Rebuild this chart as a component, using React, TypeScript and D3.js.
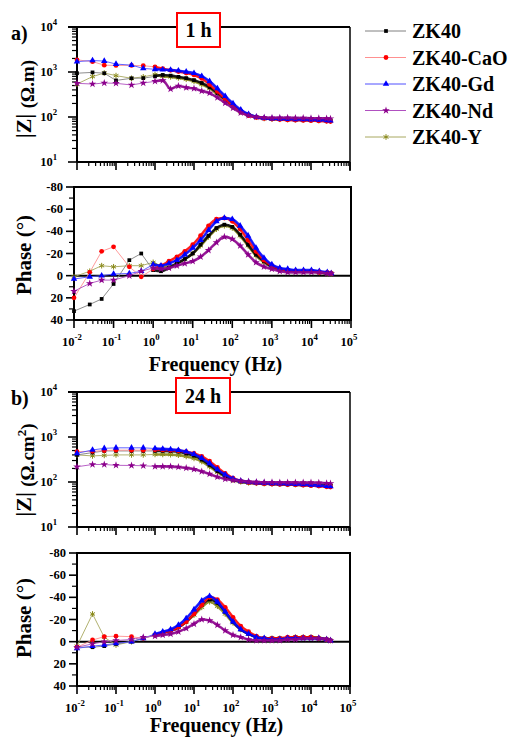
import React, { useEffect, useRef } from "react";
import * as d3 from "d3";

const FONT = "'Liberation Serif', 'Times New Roman', serif";

// frequencies (Hz): sparse low-frequency points, then the dense sweep
const freqs = [0.01, 0.025, 0.05, 0.1, 0.25, 0.5, 1, 1.58, 2.51, 3.98, 6.31, 10, 15.8, 25.1, 39.8, 63.1, 100, 158, 251, 398, 631, 1000, 1585, 2512, 3981, 6310, 10000, 15849, 25119, 31623];

const seriesNames = ["ZK40", "ZK40-CaO", "ZK40-Gd", "ZK40-Nd", "ZK40-Y"];
const markerColors = ["#000000", "#ff0000", "#0000ff", "#8b008b", "#8a8a1a"];
const lineColors = ["#808080", "#ff9090", "#5050ff", "#b050c0", "#a8a860"];
const markerShapes = [d3.symbolSquare, d3.symbolCircle, d3.symbolTriangle, d3.symbolStar, d3.symbolAsterisk];
const drawOrder = [4, 0, 1, 2, 3];

// |Z| after 1 h
const imp1h_ZK40 = [940, 980, 940, 650, 725, 730, 800, 860, 830, 780, 730, 660, 570, 460, 340, 245, 180, 135, 112, 100, 94, 91, 90, 89, 88, 87, 86, 85, 84, 83];
const imp1h_CaO = [1860, 1700, 1420, 1400, 1400, 1380, 1300, 1180, 1090, 1020, 950, 860, 720, 530, 370, 250, 175, 130, 108, 98, 93, 90, 88, 86, 85, 84, 83, 82, 80, 79];
const imp1h_Gd = [1700, 1800, 1750, 1500, 1420, 1200, 1150, 1130, 1110, 1070, 1010, 940, 810, 620, 430, 290, 200, 145, 115, 100, 94, 92, 91, 90, 89, 88, 87, 86, 84, 83];
const imp1h_Nd = [560, 540, 570, 560, 515, 570, 620, 650, 420, 490, 450, 430, 380, 340, 270, 205, 158, 125, 108, 100, 97, 96, 96, 96, 95, 95, 94, 94, 93, 92];
const imp1h_Y = [540, 790, 950, 830, 725, 780, 880, 800, 780, 740, 690, 620, 530, 430, 320, 235, 172, 130, 110, 99, 93, 90, 89, 88, 87, 86, 85, 84, 83, 82];

// phase after 1 h
const ph1h_ZK40 = [32, 26, 21, 7.5, -14, -20, -5, -4, -7, -11, -15, -20, -28, -36, -43, -46, -44, -37, -28, -19, -13, -8, -6, -5, -4, -4, -4, -3, -2, -2];
const ph1h_CaO = [20, -3, -22, -26, -8, 1, -6, -9, -13, -17, -22, -28, -36, -45, -51, -52, -49, -42, -32, -22, -14, -9, -6, -5, -4, -4, -4, -3, -3, -2];
const ph1h_Gd = [3, 1, 0, -1.5, -2, -4, -10, -9, -11, -14, -19, -25, -32, -41, -49, -52, -51, -45, -36, -25, -16, -10, -7, -6, -5, -5, -5, -4, -3, -2];
const ph1h_Nd = [14, 7, 4, 4, 0, -4, -7, -6, -7, -9, -11, -13, -17, -23, -30, -35, -33, -27, -19, -12, -8, -6, -4, -3, -3, -3, -3, -3, -2, -2];
const ph1h_Y = [1, -4, -9, -8, -9, -9, -12, -8, -8, -11, -15, -20, -27, -35, -42, -45, -43, -36, -27, -18, -12, -8, -6, -5, -4, -4, -4, -3, -2, -2];

// |Z| after 24 h
const imp24h_ZK40 = [400, 450, 490, 490, 490, 490, 490, 490, 485, 470, 430, 385, 315, 240, 175, 135, 112, 102, 97, 94, 92, 90, 89, 88, 87, 86, 85, 84, 83, 82];
const imp24h_CaO = [470, 480, 500, 510, 510, 510, 520, 515, 505, 495, 470, 430, 370, 290, 210, 155, 122, 105, 98, 94, 92, 90, 89, 88, 87, 85, 83, 81, 78, 77];
const imp24h_Gd = [435, 515, 560, 575, 575, 575, 555, 545, 530, 510, 470, 415, 340, 260, 190, 145, 118, 106, 100, 97, 95, 93, 92, 91, 90, 88, 86, 84, 81, 80];
const imp24h_Nd = [218, 245, 245, 235, 233, 230, 222, 222, 220, 215, 205, 192, 172, 150, 130, 117, 110, 105, 102, 100, 99, 99, 98, 98, 98, 97, 97, 96, 94, 93];
const imp24h_Y = [400, 380, 390, 400, 400, 400, 410, 410, 405, 395, 370, 335, 285, 220, 165, 130, 110, 101, 96, 94, 92, 91, 90, 89, 88, 87, 86, 85, 84, 83];

// phase after 24 h
const ph24h_ZK40 = [5, 5, 4, 2, 0, -3, -6, -8, -10, -13, -18, -25, -33, -38, -35, -27, -18, -11, -7, -4, -3, -3, -3, -3, -4, -4, -4, -3, -2, -1];
const ph24h_CaO = [5, -1.5, -4.5, -5, -4.5, -3, -6, -8, -10, -13, -18, -25, -33, -40, -38, -31, -22, -14, -9, -5, -3, -3, -3, -4, -4, -4, -4, -3, -2, -1];
const ph24h_Gd = [6, 4, 3, 1.5, 0, -3, -7, -9, -11, -15, -21, -29, -37, -41, -36, -27, -18, -11, -7, -4, -3, -2, -2, -3, -3, -3, -3, -3, -2, -1];
const ph24h_Nd = [5, 2, 0, -1, -2, -4, -5, -6, -7, -9, -12, -16, -20, -19, -15, -10, -6, -4, -2, -1, -1, -1, -1, -2, -2, -3, -3, -3, -2, -1];
const ph24h_Y = [4, -25, -4, 3, 0, -3, -6, -8, -10, -13, -18, -24, -31, -36, -32, -25, -17, -11, -7, -4, -3, -3, -3, -3, -4, -4, -4, -3, -2, -1];

const freqTicks = [0.01, 0.1, 1, 10, 100, 1000, 10000, 100000];
const freqExps = ["-2", "-1", "0", "1", "2", "3", "4", "5"];
const impTicks = [10, 100, 1000, 10000];
const impExps = ["1", "2", "3", "4"];
const phaseTicks = [-80, -60, -40, -20, 0, 20, 40];
const phaseMinor = [-70, -50, -30, -10, 10, 30];

const panels = [
  { kind: "imp", left: 77, right: 350, top: 27, bottom: 162, freqY: 0, data: [imp1h_ZK40, imp1h_CaO, imp1h_Gd, imp1h_Nd, imp1h_Y] },
  { kind: "phase", left: 74, right: 351, top: 187, bottom: 320, freqY: 51, data: [ph1h_ZK40, ph1h_CaO, ph1h_Gd, ph1h_Nd, ph1h_Y] },
  { kind: "imp", left: 77, right: 350, top: 392, bottom: 527, freqY: 0, data: [imp24h_ZK40, imp24h_CaO, imp24h_Gd, imp24h_Nd, imp24h_Y] },
  { kind: "phase", left: 77, right: 350, top: 553, bottom: 686, freqY: 46, data: [ph24h_ZK40, ph24h_CaO, ph24h_Gd, ph24h_Nd, ph24h_Y] },
];

function supText(g: any, x: number, y: number, base: string, exp: string, anchor: string, size: number) {
  const t = g.append("text").attr("x", x).attr("y", y).attr("text-anchor", anchor)
    .attr("font-family", FONT).attr("font-weight", "bold").attr("font-size", size);
  t.append("tspan").text(base);
  t.append("tspan").attr("dy", -size * 0.45).attr("font-size", size * 0.7).text(exp);
}

function minorLog(lo: number, hi: number) {
  const out: number[] = [];
  for (let d = lo; d < hi; d *= 10) for (let m = 2; m <= 9; m++) out.push(d * m);
  return out;
}

export default function App() {
  const ref = useRef<SVGSVGElement>(null);

  useEffect(() => {
    const svg = d3.select(ref.current);
    svg.selectAll("*").remove();

    panels.forEach((p) => {
      const g = svg.append("g");
      const x = d3.scaleLog().domain([0.01, 100000]).range([p.left, p.right]);
      const y = p.kind === "imp"
        ? d3.scaleLog().domain([10, 10000]).range([p.bottom, p.top])
        : d3.scaleLinear().domain([-80, 40]).range([p.top, p.bottom]);

      // frame
      if (p.kind === "imp") {
        g.append("line").attr("x1", p.left - 9).attr("x2", p.right).attr("y1", p.top).attr("y2", p.top).attr("stroke", "#000").attr("stroke-width", 2);
        g.append("line").attr("x1", p.right).attr("x2", p.right).attr("y1", p.top).attr("y2", p.bottom + 9).attr("stroke", "#000").attr("stroke-width", 1.5);
      } else {
        g.append("rect").attr("x", p.left).attr("y", p.top).attr("width", p.right - p.left).attr("height", p.bottom - p.top)
          .attr("fill", "none").attr("stroke", "#000").attr("stroke-width", 2);
        g.append("line").attr("x1", p.left).attr("x2", p.right).attr("y1", y(0)).attr("y2", y(0)).attr("stroke", "#000").attr("stroke-width", 2);
      }
      g.append("line").attr("x1", p.left).attr("x2", p.left).attr("y1", p.top).attr("y2", p.bottom).attr("stroke", "#000").attr("stroke-width", 2);
      g.append("line").attr("x1", p.left).attr("x2", p.right).attr("y1", p.bottom).attr("y2", p.bottom).attr("stroke", "#000").attr("stroke-width", 2);

      // x ticks
      freqTicks.forEach((f) => {
        g.append("line").attr("x1", x(f)).attr("x2", x(f)).attr("y1", p.bottom).attr("y2", p.bottom + 8).attr("stroke", "#000").attr("stroke-width", 1.6);
      });
      minorLog(0.01, 100000).forEach((f) => {
        g.append("line").attr("x1", x(f)).attr("x2", x(f)).attr("y1", p.bottom).attr("y2", p.bottom + 4).attr("stroke", "#000").attr("stroke-width", 1.2);
      });
      if (p.kind === "phase") {
        freqTicks.forEach((f, i) => supText(g, x(f) - 2, p.bottom + 26, "10", freqExps[i], "middle", 12.5));
        g.append("text").attr("x", (p.left + p.right) / 2 + 3).attr("y", p.bottom + p.freqY).attr("text-anchor", "middle")
          .attr("font-family", FONT).attr("font-weight", "bold").attr("font-size", 20).text("Frequency (Hz)");
      }

      // y ticks
      if (p.kind === "imp") {
        impTicks.forEach((v, i) => {
          g.append("line").attr("x1", p.left - 9).attr("x2", p.left).attr("y1", y(v)).attr("y2", y(v)).attr("stroke", "#000").attr("stroke-width", 1.6);
          supText(g, p.left - 20, y(v) + 4, "10", impExps[i], "end", 12.5);
        });
        minorLog(10, 10000).forEach((v) => {
          g.append("line").attr("x1", p.left - 5).attr("x2", p.left).attr("y1", y(v)).attr("y2", y(v)).attr("stroke", "#000").attr("stroke-width", 1.2);
        });
      } else {
        phaseTicks.forEach((v) => {
          g.append("line").attr("x1", p.left - 8).attr("x2", p.left).attr("y1", y(v)).attr("y2", y(v)).attr("stroke", "#000").attr("stroke-width", 1.6);
          g.append("text").attr("x", p.left - 11).attr("y", y(v) + 4).attr("text-anchor", "end")
            .attr("font-family", FONT).attr("font-weight", "bold").attr("font-size", 12.5).text(String(v));
        });
        phaseMinor.forEach((v) => {
          g.append("line").attr("x1", p.left - 5).attr("x2", p.left).attr("y1", y(v)).attr("y2", y(v)).attr("stroke", "#000").attr("stroke-width", 1.2);
        });
      }

      // series
      drawOrder.forEach((si) => {
        const vals = p.data[si];
        const pts: [number, number][] = freqs.map((f, j) => [x(f), y(vals[j])]);
        g.append("path").attr("d", d3.line()(pts)).attr("fill", "none").attr("stroke", lineColors[si]).attr("stroke-width", 0.9);
        const dense = pts.filter((_, j) => freqs[j] >= 1);
        g.append("path").attr("d", d3.line().curve(d3.curveMonotoneX)(dense)).attr("fill", "none")
          .attr("stroke", markerColors[si]).attr("stroke-width", 2.6).attr("stroke-opacity", 0.85);
        const sym = d3.symbol().type(markerShapes[si]).size(si === 4 ? 22 : si === 0 ? 14 : 18);
        pts.forEach(([px, py]) => {
          const m = g.append("path").attr("d", sym()).attr("transform", `translate(${px},${py})`);
          if (si === 4) m.attr("fill", "none").attr("stroke", markerColors[si]).attr("stroke-width", 1);
          else m.attr("fill", markerColors[si]);
        });
      });
    });

    // axis titles
    const zA = svg.append("text").attr("transform", "translate(31,99) rotate(-90)").attr("text-anchor", "middle")
      .attr("font-family", FONT).attr("font-weight", "bold").attr("font-size", 22);
    zA.append("tspan").text("|Z| ");
    zA.append("tspan").attr("dy", 3).attr("font-size", 19).text("(Ω.m)");

    const zB = svg.append("text").attr("transform", "translate(31,470) rotate(-90)").attr("text-anchor", "middle")
      .attr("font-family", FONT).attr("font-weight", "bold").attr("font-size", 22);
    zB.append("tspan").text("|Z| ");
    zB.append("tspan").attr("dy", 3).attr("font-size", 19).text("(Ω.cm");
    zB.append("tspan").attr("dy", -8).attr("font-size", 13).text("2");
    zB.append("tspan").attr("dy", 8).attr("font-size", 19).text(")");

    [[255], [618]].forEach(([cy]) => {
      svg.append("text").attr("transform", `translate(31,${cy}) rotate(-90)`).attr("text-anchor", "middle")
        .attr("font-family", FONT).attr("font-weight", "bold").attr("font-size", 21).text("Phase (°)");
    });

    // panel letters
    [["a)", 40], ["b)", 405]].forEach(([t, yy]) => {
      svg.append("text").attr("x", 11).attr("y", yy as number).attr("font-family", FONT).attr("font-weight", "bold")
        .attr("font-size", 20).text(t as string);
    });

    // time boxes
    [["1 h", 177, 13, 43, 34], ["24 h", 176, 378, 54, 35]].forEach(([t, bx, by, bw, bh]) => {
      svg.append("rect").attr("x", bx as number).attr("y", by as number).attr("width", bw as number).attr("height", bh as number)
        .attr("fill", "#fff").attr("stroke", "#ff0000").attr("stroke-width", 2);
      svg.append("text").attr("x", (bx as number) + (bw as number) / 2).attr("y", (by as number) + (bh as number) / 2 + 7)
        .attr("text-anchor", "middle").attr("font-family", FONT).attr("font-weight", "bold").attr("font-size", 20).text(t as string);
    });

    // legend
    const leg = svg.append("g");
    seriesNames.forEach((name, i) => {
      const ly = 31 + i * 26.5;
      leg.append("line").attr("x1", 365).attr("x2", 406).attr("y1", ly).attr("y2", ly).attr("stroke", lineColors[i]).attr("stroke-width", 1);
      const sym = d3.symbol().type(markerShapes[i]).size(i === 4 ? 22 : i === 0 ? 14 : 18);
      const m = leg.append("path").attr("d", sym()).attr("transform", `translate(386,${ly})`);
      if (i === 4) m.attr("fill", "none").attr("stroke", markerColors[i]).attr("stroke-width", 1);
      else m.attr("fill", markerColors[i]);
      leg.append("text").attr("x", 412).attr("y", ly + 7).attr("font-family", FONT).attr("font-weight", "bold")
        .attr("font-size", 20).text(name);
    });
  }, []);

  return <svg ref={ref} width={515} height={738} style={{ position: "absolute", left: 0, top: 0, background: "#fff" }} />;
}
